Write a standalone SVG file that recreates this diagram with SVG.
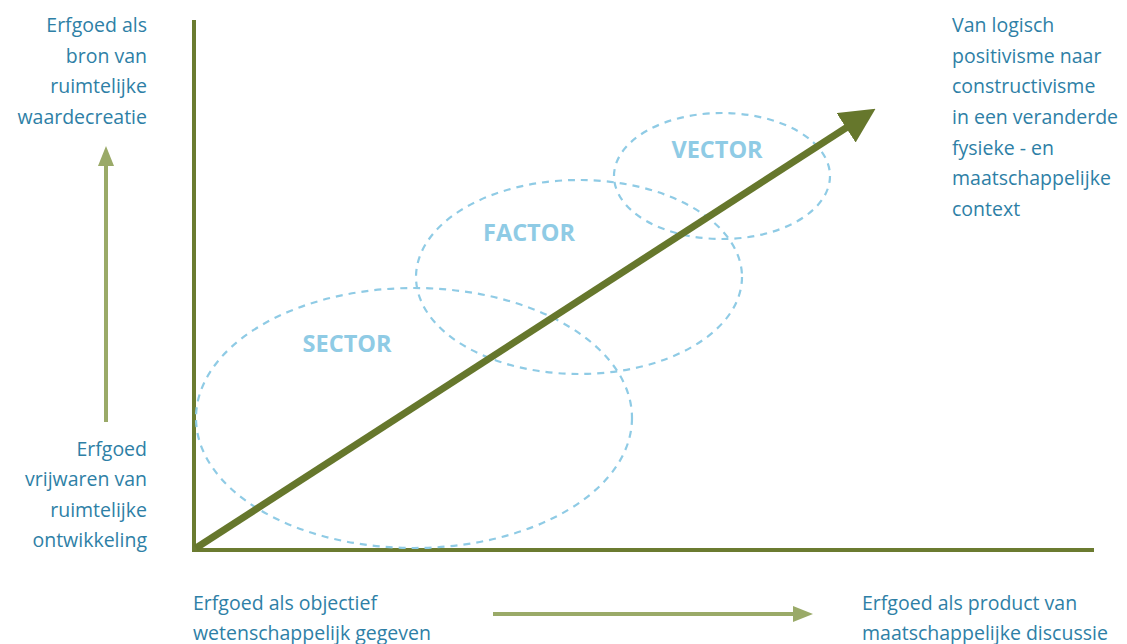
<svg xmlns="http://www.w3.org/2000/svg" width="1127" height="644" viewBox="0 0 1127 644">
<style>
.lbl{font-family:"Open Sans","Liberation Sans",sans-serif;font-size:19.5px;fill:#2e7fa6}
.r{text-anchor:end}
.tag{font-family:"Open Sans","Liberation Sans",sans-serif;font-size:23.5px;font-weight:bold;fill:#8fcbe5;text-anchor:middle}
.ell{fill:none;stroke:#8fcbe5;stroke-width:2.2;stroke-dasharray:7 6}
.axis{stroke:#6b7b30;stroke-width:4;fill:none}
</style>
<defs>
<marker id="lightHead" viewBox="0 0 20 16" refX="4" refY="8" markerWidth="20" markerHeight="16" orient="auto" markerUnits="userSpaceOnUse">
<path d="M0,0 L20,8 L0,16 Z" fill="#9aaa68"/>
</marker>
<marker id="darkHead" viewBox="0 0 10 10" refX="2" refY="5" markerWidth="5" markerHeight="5" orient="auto">
<path d="M0,0 L10,5 L0,10 Z" fill="#66772c"/>
</marker>
</defs>
<rect width="1127" height="644" fill="#ffffff"/>
<g id="axes">
<line class="axis" x1="194" y1="20" x2="194" y2="550"/>
<line class="axis" x1="192" y1="550" x2="1094" y2="550"/>
</g>
<g id="sector">
<ellipse class="ell" cx="414" cy="418" rx="218" ry="130"/>
<text class="tag" x="347" y="352">SECTOR</text>
</g>
<g id="factor">
<ellipse class="ell" cx="579" cy="277" rx="163" ry="97"/>
<text class="tag" x="529" y="241">FACTOR</text>
</g>
<g id="vector">
<ellipse class="ell" cx="722" cy="176" rx="108" ry="63"/>
<text class="tag" x="717" y="158">VECTOR</text>
</g>
<g id="connectors">
<line x1="196" y1="548" x2="852" y2="124" stroke="#66772c" stroke-width="7" marker-end="url(#darkHead)"/>
<line x1="106" y1="422" x2="106" y2="162" stroke="#9aaa68" stroke-width="4" marker-end="url(#lightHead)"/>
<line x1="493" y1="614" x2="797" y2="614" stroke="#9aaa68" stroke-width="4" marker-end="url(#lightHead)"/>
</g>
<g id="label-top-left">
<text class="lbl r" x="147" y="32">Erfgoed als</text>
<text class="lbl r" x="147" y="63">bron van</text>
<text class="lbl r" x="147" y="93">ruimtelijke</text>
<text class="lbl r" x="147" y="124">waardecreatie</text>
</g>
<g id="label-bottom-left">
<text class="lbl r" x="147" y="456">Erfgoed</text>
<text class="lbl r" x="147" y="486">vrijwaren van</text>
<text class="lbl r" x="147" y="517">ruimtelijke</text>
<text class="lbl r" x="147" y="547">ontwikkeling</text>
</g>
<g id="label-top-right">
<text class="lbl" x="952" y="32">Van logisch</text>
<text class="lbl" x="952" y="63">positivisme naar</text>
<text class="lbl" x="952" y="93">constructivisme</text>
<text class="lbl" x="952" y="124">in een veranderde</text>
<text class="lbl" x="952" y="155">fysieke - en</text>
<text class="lbl" x="952" y="185">maatschappelijke</text>
<text class="lbl" x="952" y="216">context</text>
</g>
<g id="label-bottom-x">
<text class="lbl" x="193" y="610">Erfgoed als objectief</text>
<text class="lbl" x="193" y="640">wetenschappelijk gegeven</text>
</g>
<g id="label-bottom-right">
<text class="lbl" x="862" y="610">Erfgoed als product van</text>
<text class="lbl" x="862" y="640">maatschappelijke discussie</text>
</g>
</svg>
